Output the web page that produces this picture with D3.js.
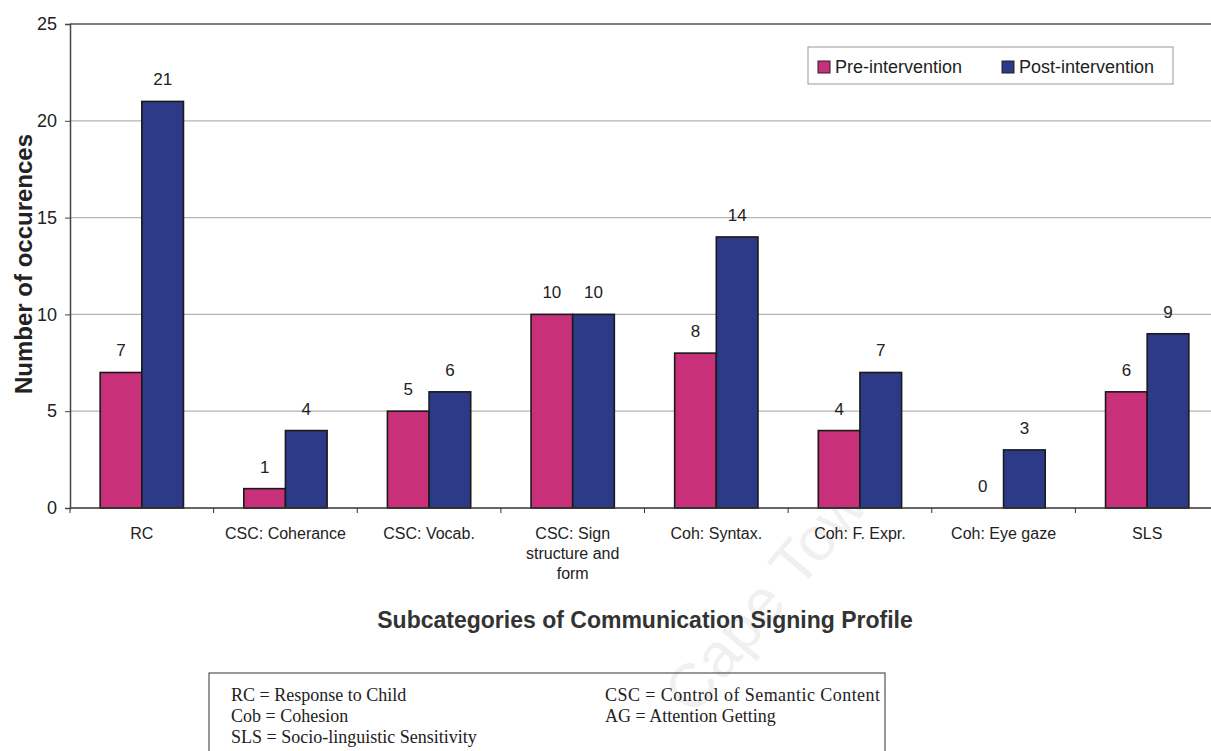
<!DOCTYPE html>
<html lang="en">
<head>
    <meta charset="UTF-8">
    <title>Communication Signing Profile</title>
    <script src="https://cdn.jsdelivr.net/npm/d3@7"></script>
    <style>
        body { margin: 0; background: #fff; }
        svg { display: block; font-family: "Liberation Sans", Arial, sans-serif; }
    </style>
</head>
<body>
    <div id="chart-space"></div>

    <script>
        // data
        var categories = ["RC", "CSC: Coherance", "CSC: Vocab.", "CSC: Sign structure and form",
            "Coh: Syntax.", "Coh: F. Expr.", "Coh: Eye gaze", "SLS"];
        var categoryLines = [["RC"], ["CSC: Coherance"], ["CSC: Vocab."], ["CSC: Sign", "structure and", "form"],
            ["Coh: Syntax."], ["Coh: F. Expr."], ["Coh: Eye gaze"], ["SLS"]];
        var seriesNames = ["Pre-intervention", "Post-intervention"];
        var preValues = [7, 1, 5, 10, 8, 4, 0, 6];
        var postValues = [21, 4, 6, 10, 14, 7, 3, 9];
        var yTicks = [0, 5, 10, 15, 20, 25];
        var footnoteLeft = ["RC  = Response to Child", "Cob = Cohesion", "SLS = Socio-linguistic Sensitivity"];
        var footnoteRight = ["CSC = Control of Semantic Content", "AG  = Attention Getting"];
        var watermark = "Cape Town";

        var colors = {"Pre-intervention": "#c8307a", "Post-intervention": "#2c3a88"};

        var width = 1211;
        var height = 751;
        var margin = {top: 24, left: 70};
        var plotRight = 1219;
        var plotBottom = 508;

        var svg = d3.select("#chart-space")
            .append("svg")
            .attr("width", width)
            .attr("height", height);

        // faint watermark behind everything
        svg.append("text")
            .attr("transform", "translate(780,588) rotate(-50)")
            .attr("text-anchor", "middle")
            .attr("dominant-baseline", "middle")
            .style("font-size", "62px")
            .style("fill", "#f0f0f0")
            .text(watermark);

        var xScale = d3.scaleBand()
            .domain(categories)
            .range([margin.left, plotRight])
            .padding(0);

        var xSub = d3.scaleBand()
            .domain(seriesNames)
            .range([xScale.bandwidth() * 0.21, xScale.bandwidth() * 0.79])
            .padding(0);

        var yScale = d3.scaleLinear()
            .domain([0, 25])
            .range([plotBottom, margin.top]);

        // gridlines
        svg.append("g")
            .selectAll("line")
            .data(yTicks.filter(function(d) { return d > 0 && d < 25; }))
            .join("line")
            .attr("x1", margin.left)
            .attr("x2", plotRight)
            .attr("y1", function(d) { return yScale(d); })
            .attr("y2", function(d) { return yScale(d); })
            .attr("stroke", "#b4b4b4")
            .attr("stroke-width", 1.2);

        // top border of plot area
        svg.append("line")
            .attr("x1", margin.left).attr("x2", plotRight)
            .attr("y1", yScale(25)).attr("y2", yScale(25))
            .attr("stroke", "#555").attr("stroke-width", 1.5);

        var rows = categories.map(function(c, i) {
            return {cat: c, values: [
                {name: seriesNames[0], value: preValues[i]},
                {name: seriesNames[1], value: postValues[i]}
            ]};
        });

        var groups = svg.append("g")
            .selectAll("g")
            .data(rows)
            .join("g")
            .attr("transform", function(d) { return "translate(" + xScale(d.cat) + ",0)"; });

        groups.selectAll("rect")
            .data(function(d) { return d.values.filter(function(v) { return v.value > 0; }); })
            .join("rect")
            .attr("x", function(d) { return xSub(d.name); })
            .attr("y", function(d) { return yScale(d.value); })
            .attr("width", xSub.bandwidth())
            .attr("height", function(d) { return plotBottom - yScale(d.value); })
            .attr("fill", function(d) { return colors[d.name]; })
            .attr("stroke", "#1a1a1a")
            .attr("stroke-width", 1.6);

        groups.selectAll("text")
            .data(function(d) { return d.values; })
            .join("text")
            .attr("x", function(d) { return xSub(d.name) + xSub.bandwidth() / 2; })
            .attr("y", function(d) { return yScale(d.value) - 16; })
            .attr("text-anchor", "middle")
            .style("font-size", "17px")
            .style("fill", "#222")
            .text(function(d) { return d.value; });

        // x axis
        var xAxis = svg.append("g")
            .attr("transform", "translate(0," + plotBottom + ")");
        xAxis.append("line")
            .attr("x1", margin.left).attr("x2", plotRight)
            .attr("stroke", "#333").attr("stroke-width", 1.5);
        xAxis.selectAll(".tick")
            .data(categories)
            .join("line")
            .attr("class", "tick")
            .attr("x1", function(d) { return xScale(d); })
            .attr("x2", function(d) { return xScale(d); })
            .attr("y1", 0).attr("y2", 5)
            .attr("stroke", "#333");

        var catLabels = svg.append("g")
            .selectAll("text")
            .data(categories)
            .join("text")
            .attr("x", function(d) { return xScale(d) + xScale.bandwidth() / 2; })
            .attr("y", 539)
            .attr("text-anchor", "middle")
            .style("font-size", "16px")
            .style("fill", "#222");
        catLabels.each(function(d, i) {
            var t = d3.select(this);
            categoryLines[i].forEach(function(line, j) {
                t.append("tspan")
                    .attr("x", xScale(d) + xScale.bandwidth() / 2)
                    .attr("dy", j === 0 ? 0 : 20)
                    .text(line);
            });
        });

        // y axis
        var yAxis = svg.append("g")
            .attr("transform", "translate(" + margin.left + ",0)")
            .call(d3.axisLeft(yScale).tickValues(yTicks).tickSize(5).tickPadding(8));
        yAxis.select(".domain").attr("stroke", "#444").attr("stroke-width", 1.5);
        yAxis.selectAll(".tick line").attr("stroke", "#444");
        yAxis.selectAll(".tick text")
            .style("font-size", "18px")
            .style("fill", "#222")
            .style("font-family", "'Liberation Sans', Arial, sans-serif");

        // axis titles
        svg.append("text")
            .attr("transform", "translate(32,264) rotate(-90)")
            .attr("text-anchor", "middle")
            .style("font-size", "24px")
            .style("font-weight", "bold")
            .style("fill", "#222")
            .text("Number of occurences");

        svg.append("text")
            .attr("x", 645)
            .attr("y", 628)
            .attr("text-anchor", "middle")
            .style("font-size", "23px")
            .style("font-weight", "bold")
            .style("fill", "#333")
            .text("Subcategories of Communication Signing Profile");

        // legend
        var legend = svg.append("g");
        legend.append("rect")
            .attr("x", 808).attr("y", 47)
            .attr("width", 365).attr("height", 37)
            .attr("fill", "#fff")
            .attr("stroke", "#999");
        var legendX = [818, 1002];
        seriesNames.forEach(function(name, i) {
            legend.append("rect")
                .attr("x", legendX[i]).attr("y", 61)
                .attr("width", 12).attr("height", 12)
                .attr("fill", colors[name])
                .attr("stroke", "#222");
            legend.append("text")
                .attr("x", legendX[i] + 17).attr("y", 73)
                .style("font-size", "18px")
                .style("fill", "#222")
                .text(name);
        });

        // abbreviation box
        var note = svg.append("g")
            .style("font-family", "'Liberation Serif', 'Times New Roman', serif")
            .style("font-size", "18px")
            .style("fill", "#222")
            .style("white-space", "pre");
        note.append("rect")
            .attr("x", 209).attr("y", 673)
            .attr("width", 676).attr("height", 100)
            .attr("fill", "none")
            .attr("stroke", "#333");
        footnoteLeft.forEach(function(line, i) {
            note.append("text").attr("x", 231).attr("y", 701 + i * 21).text(line);
        });
        footnoteRight.forEach(function(line, i) {
            note.append("text").attr("x", 605).attr("y", 701 + i * 21)
                .attr("textLength", i === 0 ? 275 : null)
                .text(line);
        });
    </script>
</body>
</html>
